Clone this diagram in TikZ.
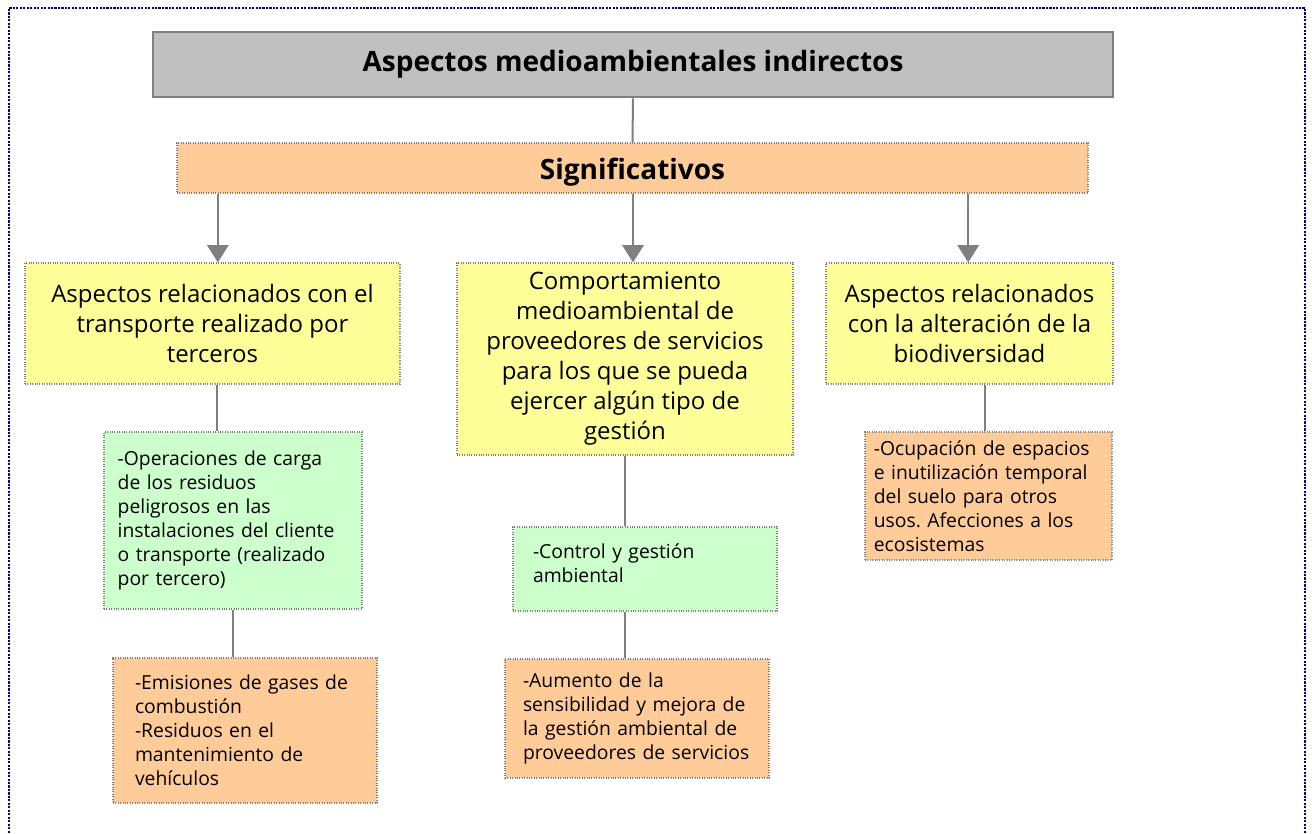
\documentclass[tikz,border=0pt]{standalone}
\usepackage{fontspec}
\setmainfont{Open Sans}
\usetikzlibrary{arrows.meta}
\definecolor{boxgray}{HTML}{C0C0C0}
\definecolor{linegray}{HTML}{808080}
\definecolor{boxyellow}{HTML}{FFFF99}
\definecolor{boxgreen}{HTML}{CCFFCC}
\definecolor{boxpeach}{HTML}{FFCC99}
\definecolor{framenavy}{HTML}{000080}
\frenchspacing

\begin{document}
\begin{tikzpicture}[x=0.75pt,y=-0.75pt,
  box/.style={draw=linegray,densely dotted,line width=0.8pt,inner sep=0pt},
  ybox/.style={box,fill=boxyellow,align=center,font=\fontsize{18}{22.5}\selectfont},
  gbox/.style={box,fill=boxgreen,align=left,font=\fontsize{14.5}{18}\selectfont},
  obox/.style={box,fill=boxpeach,align=left,font=\fontsize{14.5}{18}\selectfont},
  headbox/.style={inner sep=0pt,font=\bfseries\fontsize{21}{25}\selectfont},
  link/.style={draw=linegray,line width=1.5pt},
  arrow/.style={link,-{Triangle[width=16pt,length=13pt]}},
  outerline/.style={draw=framenavy,densely dotted,line width=1.6pt}]
\useasboundingbox (0,0) rectangle (1312,834);
\draw[outerline] (9,850) -- (9,8) -- (1305,8) -- (1305,850);

% top of the tree
\node[headbox,fill=boxgray,draw=linegray,line width=2.2pt,
  minimum width=720pt,minimum height=48.75pt] (title) at (633,64.5) {Aspectos medioambientales indirectos};
\node[headbox,box,fill=boxpeach,font=\bfseries\fontsize{21}{25}\selectfont,
  text height=18pt,text depth=0pt,
  minimum width=683.25pt,minimum height=37.5pt] (sig) at (632.5,168) {Significativos};

% second level
\node[ybox,minimum width=281.25pt,minimum height=90.75pt] (y1) at (212.5,323.5)
  {Aspectos relacionados con el\\transporte realizado por\\terceros};
\node[ybox,minimum width=252pt,minimum height=144pt] (y2) at (625,359)
  {Comportamiento\\medioambiental de\\proveedores de servicios\\para los que se pueda\\ejercer algún tipo de\\gestión};
\node[ybox,minimum width=215.25pt,minimum height=90.75pt] (y3) at (969.5,323.5)
  {Aspectos relacionados\\con la alteración de la\\biodiversidad};

% third and fourth level
\node[gbox,minimum width=193.5pt,minimum height=132.75pt,text width=173pt] (g1) at (233,520.5)
  {-Operaciones de carga\\de los residuos\\peligrosos en las\\instalaciones del cliente\\o transporte (realizado\\por tercero)};
\node[obox,minimum width=198pt,minimum height=108.75pt,text width=165pt] (o1) at (245,730.5)
  {-Emisiones de gases de\\combustión\\-Residuos en el\\mantenimiento de\\vehículos};
\node[gbox,minimum width=198pt,minimum height=63pt,text width=168pt,text depth=27pt] (g2) at (645,569)
  {-Control y gestión\\ambiental};
\node[obox,minimum width=198pt,minimum height=89.25pt,text width=171pt] (o2) at (637,718.5)
  {-Aumento de la\\sensibilidad y mejora de\\la gestión ambiental de\\proveedores de servicios};
\node[obox,minimum width=185.25pt,minimum height=96pt,text width=172pt] (o3) at (988.5,496)
  {-Ocupación de espacios\\e inutilización temporal\\del suelo para otros\\usos. Afecciones a los\\ecosistemas};

\draw[link] (title.south) -- (sig.north);
\draw[arrow] ([xshift=4pt]y1.north |- sig.south) -- ([xshift=4pt]y1.north);
\draw[arrow] ([xshift=6pt]y2.north |- sig.south) -- ([xshift=6pt]y2.north);
\draw[arrow] ([xshift=-1pt]y3.north |- sig.south) -- ([xshift=-1pt]y3.north);
\draw[link] ([xshift=3.5pt]y1.south) -- ([xshift=3.5pt]y1.south |- g1.north);
\draw[link] (g1.south) -- (g1.south |- o1.north);
\draw[link] (y2.south) -- (y2.south |- g2.north);
\draw[link] ([xshift=-15pt]g2.south) -- ([xshift=-15pt]g2.south |- o2.north);
\draw[link] ([xshift=11.6pt]y3.south) -- ([xshift=11.6pt]y3.south |- o3.north);
\end{tikzpicture}
\end{document}
